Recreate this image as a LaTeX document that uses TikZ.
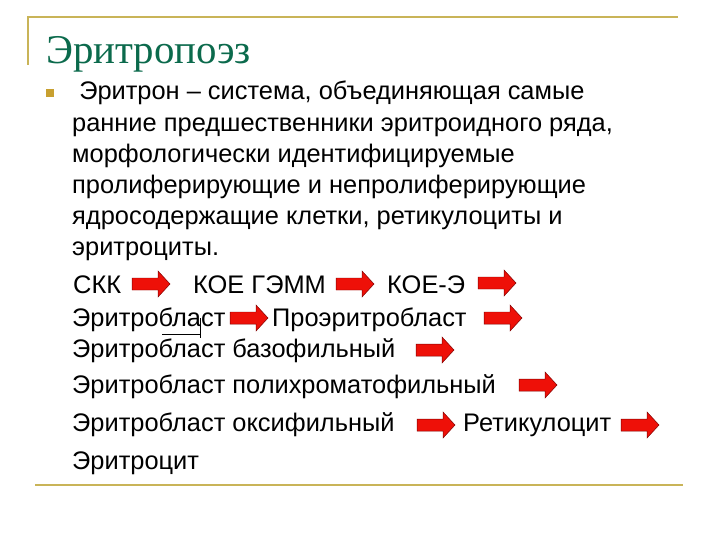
\documentclass[tikz,border=0pt]{standalone}
\usepackage{fontspec}
\setmainfont{Liberation Sans}
\newfontfamily\titlefont{Liberation Serif}
\definecolor{framegold}{HTML}{C9B458}
\definecolor{bulletgold}{HTML}{C8A030}
\definecolor{titlegreen}{HTML}{0B6A4C}
\definecolor{arrowred}{HTML}{EE1008}
\tikzset{
  textline/.style={anchor=base west, inner sep=0pt, font=\fontsize{25.5}{31}\selectfont},
  frameline/.style={framegold, line width=2bp},
  blockarrow/.style={fill=arrowred, draw=red!50!black, line width=0.5pt, line join=miter},
}
\newcommand{\redarrow}[2]{%
  \draw[blockarrow] (#1,#2) ++(0,-6) -- ++(26,0) -- ++(0,-7) -- ++(12,13)
    -- ++(-12,13) -- ++(0,-7) -- ++(-26,0) -- cycle;}
\begin{document}
\begin{tikzpicture}[x=1bp, y=-1bp]
		\useasboundingbox[fill=white] (0,0) rectangle (720,540);
		\draw[frameline] (28,65) -- (28,17) -- (678,17);
		\draw[frameline] (35,485) -- (683,485);
		
		\node[anchor=base west, inner sep=0pt, text=titlegreen,
		      font=\titlefont\fontsize{41}{41}\selectfont] (title) at (46,64) {Эритропоэз};
		\fill[bulletgold] (46,89) rectangle (54,97);
		
		\foreach \t [count=\i] in {{\ Эритрон – система, объединяющая самые},
		  {ранние предшественники эритроидного ряда,},
		  {морфологически идентифицируемые},
		  {пролиферирующие и непролиферирующие},
		  {ядросодержащие клетки, ретикулоциты и},
		  {эритроциты.}}{
			\node[textline] (l\i) at ({72},{100+31.2*(\i-1)}) {\t};
		}
		
		\node[textline] (skk) at (73,293) {СКК};
		\node[textline] (koegemm) at (193,293) {КОЕ ГЭММ};
		\node[textline] (koee) at (387,293) {КОЕ-Э};
		\node[textline] (ebl) at (72,326) {Эритробласт};
		\node[textline] (proebl) at (272,326) {Проэритробласт};
		\node[textline] (ebaso) at (72,357) {Эритробласт базофильный};
		\node[textline] (epoly) at (72,393) {Эритробласт полихроматофильный};
		\node[textline] (eoxy) at (72,431) {Эритробласт оксифильный};
		\node[textline] (retic) at (463,431) {Ретикулоцит};
		\node[textline] (ery) at (72,469) {Эритроцит};
		
		\foreach \ax/\ay in {132/284, 336/284, 478/283, 230/318, 484/318,
		                     416/350, 519/385, 417/425, 621/425}{
			\redarrow{\ax}{\ay}
		}
		
		\draw[line width=0.6pt] (162,334) -- (200,334);
		\draw[line width=0.6pt] (200,318) -- (200,338);
	\end{tikzpicture}
\end{document}
